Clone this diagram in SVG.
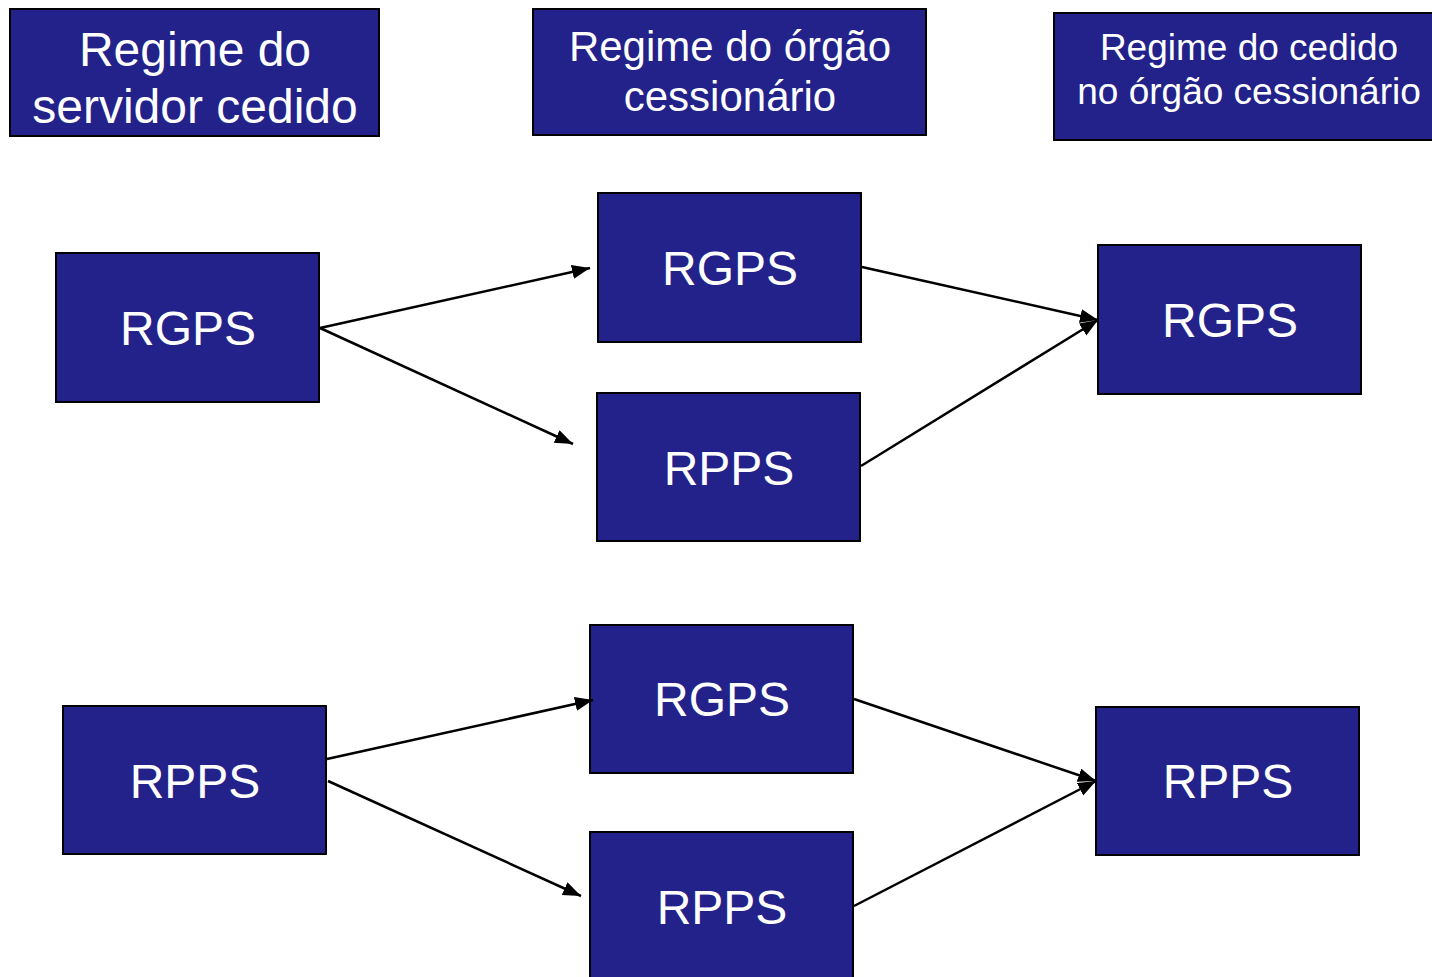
<svg xmlns="http://www.w3.org/2000/svg" width="1432" height="977" viewBox="0 0 1432 977">
<style>
.box{fill:#22228a;stroke:#000;stroke-width:2}
.t{fill:#fff;font-family:"Liberation Sans",Arial,sans-serif;text-anchor:middle}
.n{font-size:48px}
.c{fill:none;stroke:#000;stroke-width:2.5}
</style>
<defs>
<marker id="ah" markerUnits="userSpaceOnUse" markerWidth="20" markerHeight="16" refX="18" refY="7" orient="auto">
<path d="M0,0 L18,7 L0,14 Z" fill="#000"/>
</marker>
</defs>
<rect width="1432" height="977" fill="#fff"/>
<g id="h1"><rect class="box" x="10" y="9" width="369" height="127"/><text class="t" x="195" y="66" font-size="48">Regime do</text><text class="t" x="195" y="123" font-size="48">servidor cedido</text></g>
<g id="h2"><rect class="box" x="533" y="9" width="393" height="126"/><text class="t" x="730" y="61" font-size="42">Regime do órgão</text><text class="t" x="730" y="111" font-size="42">cessionário</text></g>
<g id="h3"><rect class="box" x="1054" y="13" width="385" height="127"/><text class="t" x="1249" y="60" font-size="37">Regime do cedido</text><text class="t" x="1249" y="104" font-size="37">no órgão cessionário</text></g>
<g id="a1"><rect class="box" x="56" y="253" width="263" height="149"/><text class="t n" x="188" y="345">RGPS</text></g>
<g id="b1"><rect class="box" x="598" y="193" width="263" height="149"/><text class="t n" x="730" y="285">RGPS</text></g>
<g id="b2"><rect class="box" x="597" y="393" width="263" height="148"/><text class="t n" x="729" y="485">RPPS</text></g>
<g id="c1"><rect class="box" x="1098" y="245" width="263" height="149"/><text class="t n" x="1230" y="337">RGPS</text></g>
<g id="a2"><rect class="box" x="63" y="706" width="263" height="148"/><text class="t n" x="195" y="798">RPPS</text></g>
<g id="b3"><rect class="box" x="590" y="625" width="263" height="148"/><text class="t n" x="722" y="716">RGPS</text></g>
<g id="b4"><rect class="box" x="590" y="832" width="263" height="150"/><text class="t n" x="722" y="924">RPPS</text></g>
<g id="c2"><rect class="box" x="1096" y="707" width="263" height="148"/><text class="t n" x="1228" y="798">RPPS</text></g>
<g id="connectors">
<line class="c" x1="320" y1="328" x2="590" y2="268" marker-end="url(#ah)"/>
<line class="c" x1="320" y1="328" x2="573" y2="444" marker-end="url(#ah)"/>
<line class="c" x1="862" y1="267" x2="1098" y2="320" marker-end="url(#ah)"/>
<line class="c" x1="861" y1="466" x2="1098" y2="320" marker-end="url(#ah)"/>
<line class="c" x1="327" y1="759" x2="593" y2="700" marker-end="url(#ah)"/>
<line class="c" x1="328" y1="781" x2="581" y2="896" marker-end="url(#ah)"/>
<line class="c" x1="854" y1="699" x2="1096" y2="781" marker-end="url(#ah)"/>
<line class="c" x1="854" y1="906" x2="1096" y2="781" marker-end="url(#ah)"/>
</g>
</svg>
